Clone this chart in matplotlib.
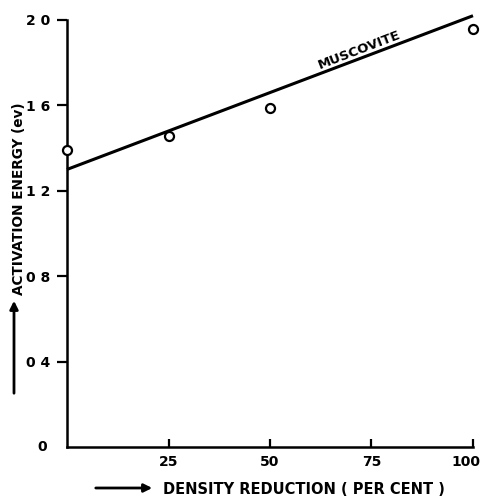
import matplotlib
matplotlib.use("Agg")
import matplotlib.pyplot as plt
from matplotlib.transforms import ScaledTranslation

# Data
density_reduction = [0, 25, 50, 100]
activation_energy = [1.39, 1.455, 1.59, 1.96]
fit_x = [0, 100]
fit_y = [1.30, 2.02]

x_ticks = [25, 50, 75, 100]
x_tick_labels = ["25", "50", "75", "100"]
y_ticks = [0.4, 0.8, 1.2, 1.6, 2.0]
y_tick_labels = ["0 4", "0 8", "1 2", "1 6", "2 0"]

plt.rcParams['font.family'] = ['DejaVu Sans']

fig = plt.figure(figsize=(4.8, 4.97), dpi=100)
ax = fig.add_axes([0.1396, 0.1006, 0.8458, 0.8592])

ax.plot(fit_x, fit_y, color='black', lw=2.2, clip_on=False, solid_capstyle='butt')
ax.plot(density_reduction, activation_energy, 'o', mfc='white', mec='black',
        ms=6.5, mew=1.6, clip_on=False, zorder=3)

ax.set_xlim(0, 100)
ax.set_ylim(0, 2.0)

for s in ['top', 'right']:
    ax.spines[s].set_visible(False)
for s in ['left', 'bottom']:
    ax.spines[s].set_linewidth(1.8)

ax.set_xticks(x_ticks)
ax.set_xticklabels(x_tick_labels, fontsize=10, fontweight='bold')
ax.set_yticks(y_ticks)
ax.set_yticklabels(y_tick_labels, fontsize=10, fontweight='bold')
ax.tick_params(axis='x', direction='in', length=6, width=1.6, pad=6)
ax.tick_params(axis='y', direction='out', length=7, width=1.6, pad=5)

# keep the last x label inside the picture
last = ax.get_xticklabels()[-1]
last.set_transform(last.get_transform() + ScaledTranslation(-7 / 100, 0, fig.dpi_scale_trans))

# origin label
ax.text(-0.05, 0.0, "0", transform=ax.transAxes, ha='right', va='center',
        fontsize=10, fontweight='bold')

# line label
ax.text(72.5, 1.83, "MUSCOVITE", rotation=21, rotation_mode='anchor',
        ha='center', va='bottom', fontsize=9.5, fontweight='bold')

# x-axis label with arrow
fig.text(163 / 480, 1 - 489 / 497, "DENSITY REDUCTION ( PER CENT )",
         ha='left', va='center', fontsize=10.5, fontweight='bold')
fig.add_artist(matplotlib.patches.FancyArrowPatch(
    (93 / 480, 1 - 488 / 497), (155 / 480, 1 - 488 / 497),
    transform=fig.transFigure, arrowstyle='-|>', mutation_scale=12,
    color='black', lw=2))

# y-axis label with arrow
fig.text(19 / 480, 1 - 199 / 497, "ACTIVATION ENERGY (ev)", rotation=90,
         ha='center', va='center', fontsize=9.8, fontweight='bold')
fig.add_artist(matplotlib.patches.FancyArrowPatch(
    (14 / 480, 1 - 396 / 497), (14 / 480, 1 - 298 / 497),
    transform=fig.transFigure, arrowstyle='-|>', mutation_scale=12,
    color='black', lw=2))

fig.savefig("out.png", dpi=100)
